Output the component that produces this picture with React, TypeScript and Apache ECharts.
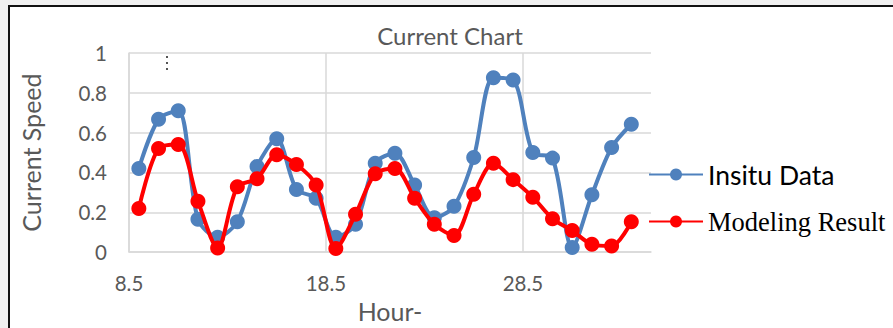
import React, { useEffect, useRef } from "react";
import * as echarts from "echarts";

const hours = [9, 10, 11, 12, 13, 14, 15, 16, 17, 18, 19, 20, 21, 22, 23, 24, 25, 26, 27, 28, 29, 30, 31, 32, 33, 34];
const insitu = [0.42, 0.667, 0.71, 0.165, 0.075, 0.153, 0.43, 0.569, 0.315, 0.27, 0.075, 0.14, 0.446, 0.497, 0.337, 0.173, 0.23, 0.475, 0.876, 0.864, 0.5, 0.472, 0.023, 0.288, 0.525, 0.642];
const modeling = [0.219, 0.52, 0.54, 0.256, 0.021, 0.328, 0.369, 0.489, 0.44, 0.337, 0.018, 0.19, 0.394, 0.42, 0.271, 0.14, 0.083, 0.29, 0.446, 0.364, 0.276, 0.168, 0.108, 0.039, 0.031, 0.152];
const xTickLabels = [8.5, 18.5, 28.5];
const seriesNames = ["Insitu Data", "Modeling Result"];

export default function App() {
  const ref = useRef<HTMLDivElement>(null);
  useEffect(() => {
    if (!ref.current) return;
    const chart = echarts.init(ref.current, null, { renderer: "svg" });
    const gray = "#595959";
    const font = "Lato";
    chart.setOption({
      animation: false,
      title: {
        text: "Current Chart",
        left: 445,
        textAlign: "center",
        top: 18,
        textStyle: { fontFamily: font, fontSize: 24, fontWeight: "normal", color: gray },
      },
      legend: {
        orient: "vertical",
        left: 648,
        top: 161,
        padding: 0,
        itemWidth: 54,
        itemHeight: 15,
        itemGap: 20,
        itemTextGap: 7,
        data: seriesNames,
        formatter: (n: string) => (n === seriesNames[0] ? `{a|${n}}` : `{b|${n}}`),
        textStyle: {
          color: "#000",
          rich: {
            a: { fontFamily: font, fontSize: 26.5, color: "#000" },
            b: { fontFamily: "Liberation Serif", fontSize: 26.5, color: "#000" },
          },
        },
      },
      grid: { left: 129, top: 53, width: 522, height: 204, containLabel: false },
      xAxis: {
        type: "value",
        min: 8.5,
        max: 35,
        name: "Hour-",
        nameLocation: "middle",
        nameGap: 43,
        nameTextStyle: { fontFamily: font, fontSize: 25, color: gray },
        axisLine: { show: true, lineStyle: { color: "#d9d9d9", width: 1.5 } },
        axisTick: { show: false, customValues: xTickLabels },
        axisLabel: { customValues: xTickLabels, fontFamily: font, fontSize: 20.5, color: gray, margin: 20 },
        splitLine: { show: true, lineStyle: { color: "#d9d9d9", width: 1.5 } },
      },
      yAxis: {
        type: "value",
        min: 0,
        max: 1,
        interval: 0.2,
        name: "Current Speed",
        nameLocation: "middle",
        nameGap: 86,
        nameTextStyle: { fontFamily: font, fontSize: 25, color: gray },
        axisLine: { show: true, lineStyle: { color: "#d9d9d9", width: 1.5 } },
        axisTick: { show: false },
        axisLabel: { fontFamily: font, fontSize: 20.5, color: gray, margin: 22 },
        splitLine: { show: true, lineStyle: { color: "#d9d9d9", width: 1.5 } },
      },
      graphic: [
        { type: "rect", shape: { x: 166, y: 56, width: 2, height: 2 }, style: { fill: "#555" } },
        { type: "rect", shape: { x: 166, y: 62, width: 2, height: 2 }, style: { fill: "#555" } },
        { type: "rect", shape: { x: 166, y: 68, width: 2, height: 2 }, style: { fill: "#555" } },
      ],
      series: [
        {
          name: seriesNames[0],
          type: "line",
          data: hours.map((h, i) => [h, insitu[i]]),
          smooth: 0.3,
          symbol: "circle",
          symbolSize: 15,
          itemStyle: { color: "#4F81BD" },
          lineStyle: { color: "#4F81BD", width: 4 },
          z: 2,
        },
        {
          name: seriesNames[1],
          type: "line",
          data: hours.map((h, i) => [h, modeling[i]]),
          smooth: 0.3,
          symbol: "circle",
          symbolSize: 15,
          itemStyle: { color: "#FF0000" },
          lineStyle: { color: "#FF0000", width: 4 },
          z: 3,
        },
      ],
    });
    return () => chart.dispose();
  }, []);
  return (
    <div style={{ position: "fixed", left: 0, top: 0, width: 893, height: 328, background: "#f0f0f0", overflow: "hidden" }}>
      <div
        style={{
          position: "absolute",
          left: 8,
          top: 5,
          width: 900,
          height: 340,
          background: "#fff",
          borderTop: "2px solid #111",
          borderLeft: "2px solid #111",
        }}
      />
      <div ref={ref} style={{ position: "absolute", left: 0, top: 0, width: 893, height: 328 }} />
    </div>
  );
}
